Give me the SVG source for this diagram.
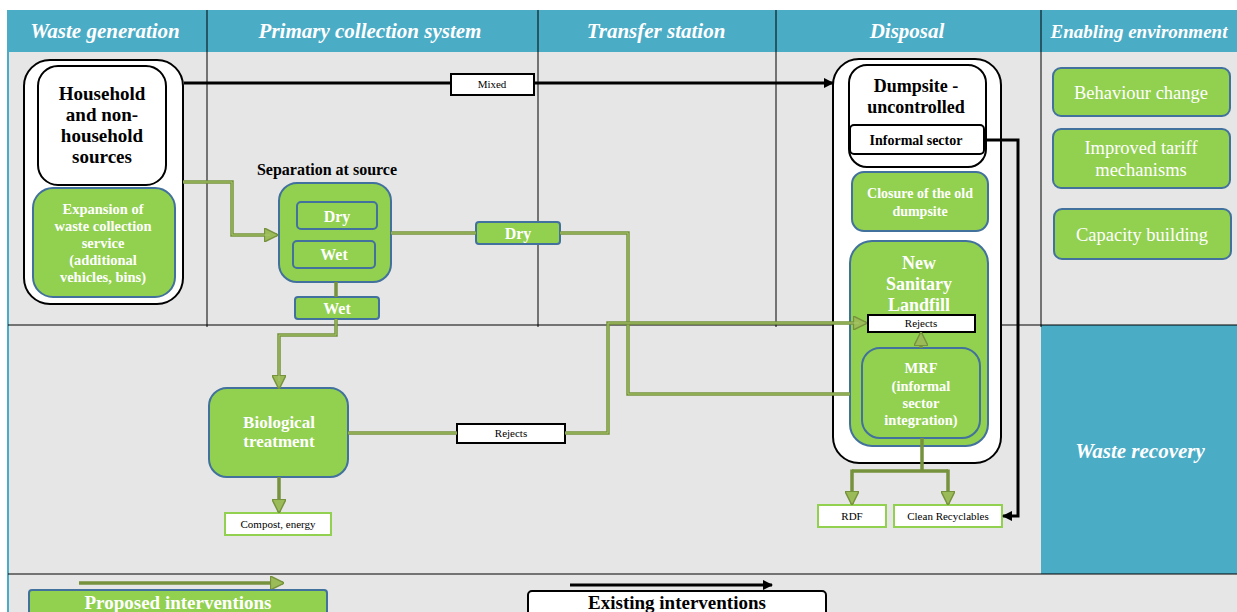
<svg xmlns="http://www.w3.org/2000/svg" width="1237" height="612" viewBox="0 0 1237 612">
  <style>
    .hdr { font-family: "Liberation Serif", serif; font-style: italic; font-weight: bold; font-size: 21px; fill: #ffffff; text-anchor: middle; }
    .blk { font-family: "Liberation Serif", serif; font-weight: bold; fill: #000000; text-anchor: middle; }
    .wht { font-family: "Liberation Serif", serif; font-weight: bold; fill: #ffffff; text-anchor: middle; }
    .reg { font-family: "Liberation Serif", serif; fill: #ffffff; text-anchor: middle; font-size: 18.5px; }
    .small { font-family: "Liberation Serif", serif; fill: #000000; text-anchor: middle; font-size: 11px; }
    .green { fill: #92d050; stroke: #41719c; stroke-width: 2; }
    .white { fill: #ffffff; stroke: #000000; stroke-width: 2; }
    .outbox { fill: #ffffff; stroke: #92d050; stroke-width: 2; }
    .grid { stroke: #000000; stroke-width: 1; fill: none; }
    .flow { fill: none; stroke: #76923c; stroke-width: 3.5; }
    .flowhi { fill: none; stroke: #a9c86c; stroke-width: 1; }
    .exist { fill: none; stroke: #000000; stroke-width: 3; }
  </style>
  <defs>
    <marker id="ga" viewBox="0 0 10 10" refX="9" refY="5" markerWidth="4" markerHeight="4" orient="auto" markerUnits="strokeWidth">
      <path d="M0,0 L10,5 L0,10 Z" fill="#9bbb59" stroke="#76923c" stroke-width="1"/>
    </marker>
    <marker id="ba" viewBox="0 0 10 10" refX="9" refY="5" markerWidth="3.5" markerHeight="3.5" orient="auto" markerUnits="strokeWidth">
      <path d="M0,0 L10,5 L0,10 Z" fill="#000000"/>
    </marker>
  </defs>

  <!-- background, header band and swimlane grid -->
  <rect x="0" y="0" width="1237" height="612" fill="#ffffff"/>
  <rect x="8" y="52" width="1229" height="560" fill="#e6e6e6"/>
  <rect x="8" y="10" width="1229" height="42" fill="#4bacc6"/>
  <rect x="1041" y="325" width="196" height="249" fill="#4bacc6"/>
  <line x1="8" y1="10" x2="8" y2="612" stroke="#4bacc6" stroke-width="2"/>
  <g class="grid">
    <line x1="207" y1="10" x2="207" y2="327"/>
    <line x1="538" y1="10" x2="538" y2="327"/>
    <line x1="776" y1="10" x2="776" y2="327"/>
    <line x1="1041" y1="10" x2="1041" y2="327"/>
    <line x1="8" y1="325" x2="1237" y2="325"/>
    <line x1="8" y1="574" x2="1237" y2="574"/>
  </g>

  <text class="hdr" x="105" y="38">Waste generation</text>
  <text class="hdr" x="370" y="38">Primary collection system</text>
  <text class="hdr" x="656" y="38">Transfer station</text>
  <text class="hdr" x="907" y="38">Disposal</text>
  <text class="hdr" x="1139" y="38" style="font-size:19px">Enabling environment</text>
  <text class="hdr" x="1140" y="458">Waste recovery</text>

  <!-- waste generation -->
  <g id="household">
    <rect x="24" y="60" width="159" height="244" rx="26" class="white"/>
    <rect x="38" y="66" width="128" height="119" rx="20" class="white"/>
    <text class="blk" x="102" y="100" font-size="19">Household</text>
    <text class="blk" x="102" y="121" font-size="19">and non-</text>
    <text class="blk" x="102" y="142" font-size="19">household</text>
    <text class="blk" x="102" y="163" font-size="19">sources</text>
  </g>
  <g id="expansion">
    <rect x="33" y="188" width="142" height="109" rx="20" class="green"/>
    <text class="wht" x="103" y="214" font-size="14.5">Expansion of</text>
    <text class="wht" x="103" y="231" font-size="14.5">waste collection</text>
    <text class="wht" x="103" y="248" font-size="14.5">service</text>
    <text class="wht" x="103" y="265" font-size="14.5">(additional</text>
    <text class="wht" x="103" y="282" font-size="14.5">vehicles, bins)</text>
  </g>

  <g id="mixed">
    <rect x="451" y="74" width="83" height="21" fill="#ffffff" stroke="#000000" stroke-width="2"/>
    <text class="small" x="492" y="88">Mixed</text>
  </g>

  <!-- primary collection -->
  <g id="separation">
    <text class="blk" x="327" y="175" font-size="16">Separation at source</text>
    <rect x="279" y="183" width="112" height="99" rx="18" class="green"/>
    <rect x="297" y="202" width="80" height="27" rx="4" class="green"/>
    <text class="wht" x="337" y="222" font-size="16">Dry</text>
    <rect x="293" y="241" width="82" height="27" rx="4" class="green"/>
    <text class="wht" x="334" y="260" font-size="16">Wet</text>
  </g>
  <g id="wet-flow">
    <rect x="295" y="297" width="84" height="22" rx="3" class="green"/>
    <text class="wht" x="337" y="314" font-size="16">Wet</text>
  </g>
  <g id="dry-flow">
    <rect x="476" y="222" width="84" height="22" rx="3" class="green"/>
    <text class="wht" x="518" y="239" font-size="16">Dry</text>
  </g>

  <g id="biological">
    <rect x="209" y="388" width="139" height="89" rx="18" class="green"/>
    <text class="wht" x="279" y="428" font-size="17">Biological</text>
    <text class="wht" x="279" y="447" font-size="17">treatment</text>
  </g>
  <g id="compost">
    <rect x="225" y="513" width="106" height="22" class="outbox"/>
    <text class="small" x="278" y="528">Compost, energy</text>
  </g>
  <g id="rejects-bio">
    <rect x="457" y="424" width="108" height="19" fill="#ffffff" stroke="#000000" stroke-width="2"/>
    <text class="small" x="511" y="437">Rejects</text>
  </g>

  <!-- disposal -->
  <g id="disposal">
    <rect x="833" y="59" width="168" height="404" rx="26" class="white"/>
  </g>
  <g id="dumpsite">
    <rect x="849" y="65" width="137" height="102" rx="18" class="white"/>
    <text class="blk" x="916" y="92" font-size="18">Dumpsite -</text>
    <text class="blk" x="916" y="113" font-size="18">uncontrolled</text>
  </g>
  <g id="informal">
    <rect x="850" y="125" width="134" height="29" rx="4" class="white"/>
    <text class="blk" x="916" y="145" font-size="14">Informal sector</text>
  </g>
  <g id="closure">
    <rect x="852" y="172" width="136" height="59" rx="12" class="green"/>
    <text class="wht" x="920" y="198" font-size="14">Closure of the old</text>
    <text class="wht" x="920" y="216" font-size="14">dumpsite</text>
  </g>
  <g id="landfill">
    <rect x="850" y="241" width="138" height="205" rx="22" class="green"/>
    <text class="wht" x="919" y="269" font-size="18">New</text>
    <text class="wht" x="919" y="290" font-size="18">Sanitary</text>
    <text class="wht" x="919" y="311" font-size="18">Landfill</text>
  </g>
  <g id="rejects-landfill">
    <rect x="868" y="315" width="107" height="17" fill="#ffffff" stroke="#000000" stroke-width="2"/>
    <text class="small" x="921" y="327">Rejects</text>
  </g>
  <g id="mrf">
    <rect x="862" y="348" width="118" height="90" rx="18" class="green"/>
    <text class="wht" x="921" y="373" font-size="14.5">MRF</text>
    <text class="wht" x="921" y="391" font-size="14.5">(informal</text>
    <text class="wht" x="921" y="408" font-size="14.5">sector</text>
    <text class="wht" x="921" y="425" font-size="14.5">integration)</text>
  </g>
  <g id="rdf">
    <rect x="818" y="505" width="68" height="22" class="outbox"/>
    <text class="small" x="852" y="520">RDF</text>
  </g>
  <g id="recyclables">
    <rect x="894" y="505" width="108" height="22" class="outbox"/>
    <text class="small" x="948" y="520">Clean Recyclables</text>
  </g>

  <!-- enabling environment -->
  <g id="behaviour">
    <rect x="1053" y="68" width="177" height="48" rx="8" class="green"/>
    <text class="reg" x="1141" y="99">Behaviour change</text>
  </g>
  <g id="tariff">
    <rect x="1053" y="129" width="177" height="59" rx="8" class="green"/>
    <text class="reg" x="1141" y="154">Improved tariff</text>
    <text class="reg" x="1141" y="176">mechanisms</text>
  </g>
  <g id="capacity">
    <rect x="1054" y="209" width="177" height="50" rx="8" class="green"/>
    <text class="reg" x="1142" y="241">Capacity building</text>
  </g>

  <!-- connectors: black = existing flows, olive = proposed flows -->
  <g id="connectors">
    <path class="exist" d="M184,83 H451"/>
    <path class="exist" d="M534,83 H833" marker-end="url(#ba)"/>
    <path class="exist" d="M984,140 H1018 V516 H1003" marker-end="url(#ba)"/>

    <path class="flow" d="M183,182 H232 V235 H277" marker-end="url(#ga)"/>
    <path class="flowhi" d="M183,182 H232 V235 H270"/>
    <path class="flow" d="M391,233 H476"/>
    <path class="flowhi" d="M391,233 H476"/>
    <path class="flow" d="M560,233 H628 V394 H850"/>
    <path class="flowhi" d="M560,233 H628 V394 H850"/>
    <path class="flow" d="M336,282 V297"/>
    <path class="flow" d="M336,319 V335 H279 V388" marker-end="url(#ga)"/>
    <path class="flowhi" d="M336,319 V335 H279 V381"/>
    <path class="flow" d="M279,477 V512" marker-end="url(#ga)"/>
    <path class="flow" d="M348,433 H457"/>
    <path class="flowhi" d="M348,433 H457"/>
    <path class="flow" d="M565,433 H608 V323 H866" marker-end="url(#ga)"/>
    <path class="flowhi" d="M565,433 H608 V323 H859"/>

    <path class="flow" d="M921,348 V333" marker-end="url(#ga)"/>
    <path class="flow" d="M922,438 V471 M852,471 H948"/>
    <path class="flow" d="M852,469.5 V504" marker-end="url(#ga)"/>
    <path class="flow" d="M948,469.5 V504" marker-end="url(#ga)"/>
  </g>

  <!-- legend -->
  <g id="legend-proposed">
    <path class="flow" d="M79,583 H283" marker-end="url(#ga)"/>
    <rect x="29" y="590" width="298" height="30" rx="3" class="green"/>
    <text class="wht" x="178" y="609" font-size="19">Proposed interventions</text>
  </g>
  <g id="legend-existing">
    <path class="exist" d="M570,585 H772" marker-end="url(#ba)"/>
    <rect x="528" y="591" width="298" height="30" rx="4" class="white"/>
    <text class="blk" x="677" y="609" font-size="19">Existing interventions</text>
  </g>
</svg>
